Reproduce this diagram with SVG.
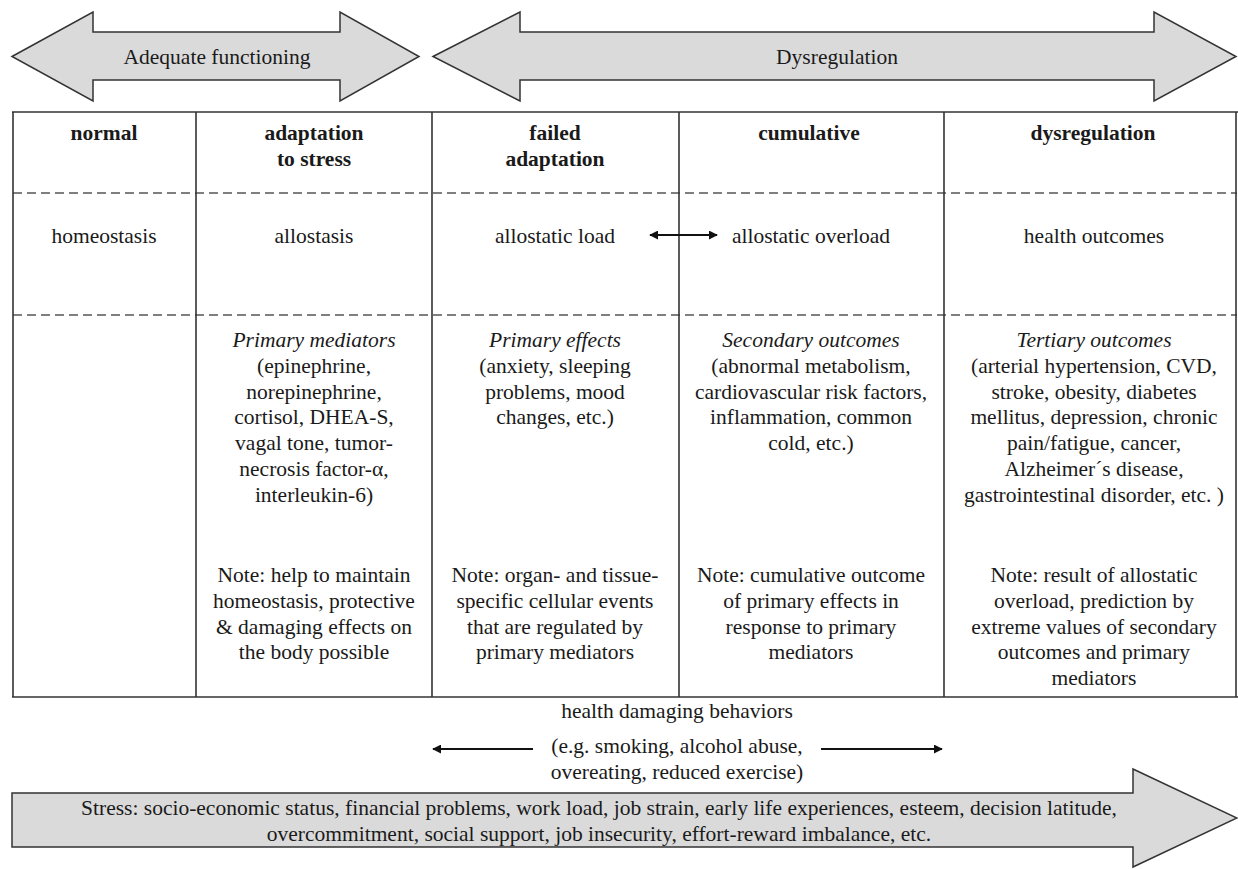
<svg xmlns="http://www.w3.org/2000/svg" width="1238" height="869" viewBox="0 0 1238 869">
  <defs>
    <style>
      text { font-family: "Liberation Serif", "Times New Roman", serif; font-size: 21.5px; fill: #1a1a1a; text-anchor: middle; }
      .b { font-weight: bold; }
      .i { font-style: italic; }
      .band { fill: #dadada; stroke: #333; stroke-width: 1.5; stroke-linejoin: miter; }
      .solid { stroke: #333; stroke-width: 1.6; fill: none; }
      .dash { stroke: #555; stroke-width: 1.3; stroke-dasharray: 9 5; fill: none; }
      .conn { stroke: #111; stroke-width: 1.8; fill: none; }
    </style>
    <marker id="ah" viewBox="0 0 10 10" refX="9" refY="5" markerWidth="5" markerHeight="5" orient="auto-start-reverse" markerUnits="strokeWidth">
      <path d="M0,0 L10,5 L0,10 Z" fill="#111"/>
    </marker>
  </defs>
  <rect width="1238" height="869" fill="#fff"/>

  <g id="arrow-adequate">
    <polygon class="band" points="12,56.5 93,12 93,32 340,32 340,12 419,56.5 340,101 340,80 93,80 93,101"/>
    <text x="217" y="64">Adequate functioning</text>
  </g>
  <g id="arrow-dysregulation">
    <polygon class="band" points="433,56.5 520,12 520,32 1154,32 1154,12 1236,56.5 1154,101 1154,80 520,80 520,101"/>
    <text x="837" y="64">Dysregulation</text>
  </g>

  <g id="table-grid">
    <line class="dash" x1="13" y1="193" x2="1237" y2="193"/>
    <line class="dash" x1="13" y1="315" x2="1237" y2="315"/>
    <line class="solid" x1="12" y1="112" x2="1238" y2="112"/>
    <line class="solid" x1="12" y1="697" x2="1238" y2="697"/>
    <line class="solid" x1="13" y1="112" x2="13" y2="697"/>
    <line class="solid" x1="196" y1="112" x2="196" y2="697"/>
    <line class="solid" x1="432" y1="112" x2="432" y2="697"/>
    <line class="solid" x1="679" y1="112" x2="679" y2="697"/>
    <line class="solid" x1="944" y1="112" x2="944" y2="697"/>
    <line class="solid" x1="1236" y1="112" x2="1236" y2="697"/>
  </g>

  <g id="col-normal">
    <text class="b" x="104" y="140">normal</text>
    <text x="104" y="243">homeostasis</text>
  </g>

  <g id="col-adaptation">
    <text class="b" x="314" y="140">adaptation</text>
    <text class="b" x="314" y="166">to stress</text>
    <text x="314" y="243">allostasis</text>
    <text class="i" x="314" y="347">Primary mediators</text>
    <text x="314" y="372.8">(epinephrine,</text>
    <text x="314" y="398.6">norepinephrine,</text>
    <text x="314" y="424.4">cortisol, DHEA-S,</text>
    <text x="314" y="450.2">vagal tone, tumor-</text>
    <text x="314" y="476">necrosis factor-α,</text>
    <text x="314" y="501.8">interleukin-6)</text>
    <text x="314" y="582">Note: help to maintain</text>
    <text x="314" y="607.8">homeostasis, protective</text>
    <text x="314" y="633.6">&amp; damaging effects on</text>
    <text x="314" y="659.4">the body possible</text>
  </g>

  <g id="col-failed">
    <text class="b" x="555" y="140">failed</text>
    <text class="b" x="555" y="166">adaptation</text>
    <text x="555" y="243">allostatic load</text>
    <text class="i" x="555" y="347">Primary effects</text>
    <text x="555" y="372.8">(anxiety, sleeping</text>
    <text x="555" y="398.6">problems, mood</text>
    <text x="555" y="424.4">changes, etc.)</text>
    <text x="555" y="582">Note: organ- and tissue-</text>
    <text x="555" y="607.8">specific cellular events</text>
    <text x="555" y="633.6">that are regulated by</text>
    <text x="555" y="659.4">primary mediators</text>
  </g>

  <g id="col-cumulative">
    <text class="b" x="809" y="140">cumulative</text>
    <text x="811" y="243">allostatic overload</text>
    <text class="i" x="811" y="347">Secondary outcomes</text>
    <text x="811" y="372.8">(abnormal metabolism,</text>
    <text x="811" y="398.6">cardiovascular risk factors,</text>
    <text x="811" y="424.4">inflammation, common</text>
    <text x="811" y="450.2">cold, etc.)</text>
    <text x="811" y="582">Note: cumulative outcome</text>
    <text x="811" y="607.8">of primary effects in</text>
    <text x="811" y="633.6">response to primary</text>
    <text x="811" y="659.4">mediators</text>
  </g>

  <g id="col-dysregulation">
    <text class="b" x="1093" y="140">dysregulation</text>
    <text x="1094" y="243">health outcomes</text>
    <text class="i" x="1094" y="347">Tertiary outcomes</text>
    <text x="1094" y="372.8">(arterial hypertension, CVD,</text>
    <text x="1094" y="398.6">stroke, obesity, diabetes</text>
    <text x="1094" y="424.4">mellitus, depression, chronic</text>
    <text x="1094" y="450.2">pain/fatigue, cancer,</text>
    <text x="1094" y="476">Alzheimer´s disease,</text>
    <text x="1094" y="501.8">gastrointestinal disorder, etc. )</text>
    <text x="1094" y="582">Note: result of allostatic</text>
    <text x="1094" y="607.8">overload, prediction by</text>
    <text x="1094" y="633.6">extreme values of secondary</text>
    <text x="1094" y="659.4">outcomes and primary</text>
    <text x="1094" y="685.2">mediators</text>
  </g>

  <g id="health-behaviors">
    <text x="677" y="718">health damaging behaviors</text>
    <text x="677" y="753">(e.g. smoking, alcohol abuse,</text>
    <text x="677" y="779">overeating, reduced exercise)</text>
  </g>

  <g id="stress-arrow">
    <polygon class="band" points="12,793 1133,793 1133,769 1237,818 1133,867 1133,847 12,847"/>
    <text x="599" y="815">Stress: socio-economic status, financial problems, work load, job strain, early life experiences, esteem, decision latitude,</text>
    <text x="599" y="841">overcommitment, social support, job insecurity, effort-reward imbalance, etc.</text>
  </g>

  <g id="connectors">
    <line class="conn" x1="650" y1="235" x2="717" y2="235" marker-start="url(#ah)" marker-end="url(#ah)"/>
    <line class="conn" x1="533" y1="749" x2="433" y2="749" marker-end="url(#ah)"/>
    <line class="conn" x1="821" y1="749" x2="942" y2="749" marker-end="url(#ah)"/>
  </g>
</svg>
